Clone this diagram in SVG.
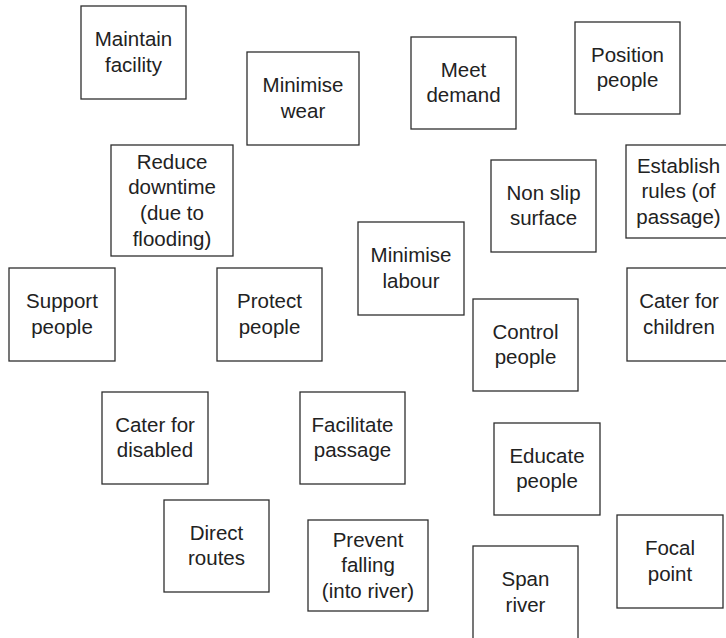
<svg xmlns="http://www.w3.org/2000/svg" width="726" height="638" viewBox="0 0 726 638">
  <style>
    rect.box { fill: #ffffff; stroke: #2e2e2e; stroke-width: 1.3; }
    text { font-family: "Liberation Sans", Arial, sans-serif; font-size: 20.5px; fill: #222222; text-anchor: middle; }
  </style>
  <rect width="726" height="638" fill="#ffffff"/>
  <g id="connectors"></g>

  <g id="maintain-facility">
    <rect class="box" x="81" y="6" width="105" height="93"/>
    <text x="133.5" y="46"><tspan x="133.5">Maintain</tspan><tspan x="133.5" dy="25.7">facility</tspan></text>
  </g>
  <g id="minimise-wear">
    <rect class="box" x="247" y="52" width="112" height="93"/>
    <text x="303" y="92"><tspan x="303">Minimise</tspan><tspan x="303" dy="25.7">wear</tspan></text>
  </g>
  <g id="meet-demand">
    <rect class="box" x="411" y="37" width="105" height="92"/>
    <text x="463.5" y="76.5"><tspan x="463.5">Meet</tspan><tspan x="463.5" dy="25.7">demand</tspan></text>
  </g>
  <g id="position-people">
    <rect class="box" x="575" y="22" width="105" height="92"/>
    <text x="627.5" y="61.5"><tspan x="627.5">Position</tspan><tspan x="627.5" dy="25.7">people</tspan></text>
  </g>
  <g id="reduce-downtime">
    <rect class="box" x="111" y="145" width="122" height="111"/>
    <text x="172" y="168.5"><tspan x="172">Reduce</tspan><tspan x="172" dy="25.7">downtime</tspan><tspan x="172" dy="25.7">(due to</tspan><tspan x="172" dy="25.7">flooding)</tspan></text>
  </g>
  <g id="non-slip-surface">
    <rect class="box" x="491" y="160" width="105" height="92"/>
    <text x="543.5" y="199.5"><tspan x="543.5">Non slip</tspan><tspan x="543.5" dy="25.7">surface</tspan></text>
  </g>
  <g id="establish-rules">
    <rect class="box" x="626" y="145" width="105" height="93"/>
    <text x="678.5" y="172.5"><tspan x="678.5">Establish</tspan><tspan x="678.5" dy="25.7">rules (of</tspan><tspan x="678.5" dy="25.7">passage)</tspan></text>
  </g>
  <g id="minimise-labour">
    <rect class="box" x="358" y="222" width="106" height="93"/>
    <text x="411" y="262"><tspan x="411">Minimise</tspan><tspan x="411" dy="25.7">labour</tspan></text>
  </g>
  <g id="support-people">
    <rect class="box" x="9" y="268" width="106" height="93"/>
    <text x="62" y="308"><tspan x="62">Support</tspan><tspan x="62" dy="25.7">people</tspan></text>
  </g>
  <g id="protect-people">
    <rect class="box" x="217" y="268" width="105" height="93"/>
    <text x="269.5" y="308"><tspan x="269.5">Protect</tspan><tspan x="269.5" dy="25.7">people</tspan></text>
  </g>
  <g id="cater-for-children">
    <rect class="box" x="627" y="268" width="105" height="93"/>
    <text x="679" y="308"><tspan x="679">Cater for</tspan><tspan x="679" dy="25.7">children</tspan></text>
  </g>
  <g id="control-people">
    <rect class="box" x="473" y="299" width="105" height="92"/>
    <text x="525.5" y="338.5"><tspan x="525.5">Control</tspan><tspan x="525.5" dy="25.7">people</tspan></text>
  </g>
  <g id="cater-for-disabled">
    <rect class="box" x="102" y="392" width="106" height="92"/>
    <text x="155" y="431.5"><tspan x="155">Cater for</tspan><tspan x="155" dy="25.7">disabled</tspan></text>
  </g>
  <g id="facilitate-passage">
    <rect class="box" x="300" y="392" width="105" height="92"/>
    <text x="352.5" y="431.5"><tspan x="352.5">Facilitate</tspan><tspan x="352.5" dy="25.7">passage</tspan></text>
  </g>
  <g id="educate-people">
    <rect class="box" x="494" y="423" width="106" height="92"/>
    <text x="547" y="462.5"><tspan x="547">Educate</tspan><tspan x="547" dy="25.7">people</tspan></text>
  </g>
  <g id="direct-routes">
    <rect class="box" x="164" y="500" width="105" height="92"/>
    <text x="216.5" y="539.5"><tspan x="216.5">Direct</tspan><tspan x="216.5" dy="25.7">routes</tspan></text>
  </g>
  <g id="focal-point">
    <rect class="box" x="617" y="515" width="106" height="93"/>
    <text x="670" y="555"><tspan x="670">Focal</tspan><tspan x="670" dy="25.7">point</tspan></text>
  </g>
  <g id="prevent-falling">
    <rect class="box" x="308" y="520" width="120" height="91"/>
    <text x="368" y="546.5"><tspan x="368">Prevent</tspan><tspan x="368" dy="25.7">falling</tspan><tspan x="368" dy="25.7">(into river)</tspan></text>
  </g>
  <g id="span-river">
    <rect class="box" x="473" y="546" width="105" height="93"/>
    <text x="525.5" y="586"><tspan x="525.5">Span</tspan><tspan x="525.5" dy="25.7">river</tspan></text>
  </g>
</svg>
